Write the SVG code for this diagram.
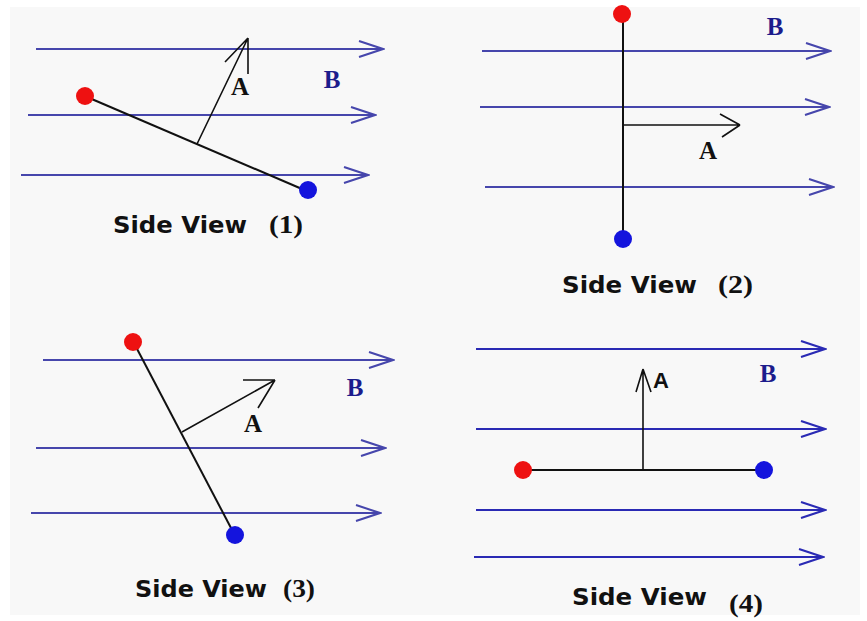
<svg xmlns="http://www.w3.org/2000/svg" width="867" height="621" viewBox="0 0 867 621">
<defs>
<style>
.field{stroke:#4646ac;stroke-width:2.2;fill:none;marker-end:url(#bArrow)}
.field4{stroke:#2a2ab4;stroke-width:2;fill:none;marker-end:url(#bArrow4)}
.rod{stroke:#111;stroke-width:2;fill:none}
.vec{stroke:#111;stroke-width:1.6;fill:none}
.red{fill:#ee1111}
.blue{fill:#1414dd}
.cap{font-family:"DejaVu Sans",Verdana,sans-serif;font-weight:bold;font-size:23px;fill:#111}
.num{font-family:"Liberation Serif","Times New Roman",serif;font-weight:bold;font-size:26px;fill:#111}
.lblA{font-family:"Liberation Serif","Times New Roman",serif;font-weight:bold;font-size:25px;fill:#111}
.lblA4{font-family:"Liberation Sans",Arial,sans-serif;font-weight:bold;font-size:22px;fill:#111}
.lblB{font-family:"Liberation Serif","Times New Roman",serif;font-weight:bold;font-size:25px;fill:#1c1c8c}
</style>
<marker id="bArrow" markerUnits="userSpaceOnUse" viewBox="-27 -11 29 22" refX="0" refY="0" markerWidth="29" markerHeight="22" orient="auto">
<path d="M-24,-8 L0,0 L-24,8" fill="none" stroke="#4646ac" stroke-width="2"/>
</marker>
<marker id="bArrow4" markerUnits="userSpaceOnUse" viewBox="-27 -11 29 22" refX="0" refY="0" markerWidth="29" markerHeight="22" orient="auto">
<path d="M-24,-8 L0,0 L-24,8" fill="none" stroke="#2a2ab4" stroke-width="2"/>
</marker>
</defs>
<rect x="0" y="0" width="867" height="621" fill="#ffffff"/>
<rect x="10" y="7" width="850" height="608" fill="#f8f8f8"/>

<g id="panel1">
<g id="p1-field">
<line class="field" x1="36" y1="49" x2="383" y2="49"/>
<line class="field" x1="28" y1="115" x2="375" y2="115"/>
<line class="field" x1="21" y1="175" x2="368" y2="175"/>
</g>
<line class="rod" x1="87" y1="97" x2="302" y2="189"/>
<circle class="red" cx="85" cy="96" r="9"/>
<circle class="blue" cx="308" cy="190" r="9"/>
<path class="vec" d="M197,144 L248,38 M248,38 L225,62 M248,38 L248,74"/>
<text class="lblA" x="240" y="95" text-anchor="middle">A</text>
<text class="lblB" x="332" y="88" text-anchor="middle">B</text>
<text class="cap" x="113" y="233" textLength="134" lengthAdjust="spacingAndGlyphs">Side View</text>
<text class="num" x="269" y="233" textLength="34" lengthAdjust="spacingAndGlyphs">(1)</text>
</g>

<g id="panel2">
<g id="p2-field">
<line class="field" x1="482" y1="51" x2="830" y2="51"/>
<line class="field" x1="480" y1="107" x2="829" y2="107"/>
<line class="field" x1="485" y1="187" x2="833" y2="187"/>
</g>
<line class="rod" x1="623" y1="14" x2="623" y2="239"/>
<circle class="red" cx="622" cy="14" r="9"/>
<circle class="blue" cx="623" cy="239" r="9"/>
<path class="vec" d="M623,125 L740,125 M740,125 L720,114 M740,125 L722,137"/>
<text class="lblA" x="708" y="159" text-anchor="middle">A</text>
<text class="lblB" x="775" y="35" text-anchor="middle">B</text>
<text class="cap" x="562" y="293" textLength="135" lengthAdjust="spacingAndGlyphs">Side View</text>
<text class="num" x="718" y="293" textLength="35" lengthAdjust="spacingAndGlyphs">(2)</text>
</g>

<g id="panel3">
<g id="p3-field">
<line class="field" x1="43" y1="360" x2="393" y2="360"/>
<line class="field" x1="36" y1="448" x2="385" y2="448"/>
<line class="field" x1="31" y1="513" x2="380" y2="513"/>
</g>
<line class="rod" x1="135" y1="345" x2="231" y2="528"/>
<circle class="red" cx="133" cy="342" r="9"/>
<circle class="blue" cx="235" cy="535" r="9"/>
<path class="vec" d="M182,432 L275,380 M275,380 L243,380 M275,380 L258,408"/>
<text class="lblA" x="253" y="432" text-anchor="middle">A</text>
<text class="lblB" x="355" y="396" text-anchor="middle">B</text>
<text class="cap" x="135" y="597" textLength="132" lengthAdjust="spacingAndGlyphs">Side View</text>
<text class="num" x="283" y="597" textLength="32" lengthAdjust="spacingAndGlyphs">(3)</text>
</g>

<g id="panel4">
<g id="p4-field">
<line class="field4" x1="476" y1="349" x2="825" y2="349"/>
<line class="field4" x1="476" y1="429" x2="825" y2="429"/>
<line class="field4" x1="476" y1="510" x2="825" y2="510"/>
<line class="field4" x1="474" y1="557" x2="823" y2="557"/>
</g>
<line class="rod" x1="523" y1="470" x2="764" y2="470"/>
<circle class="red" cx="523" cy="470" r="9"/>
<circle class="blue" cx="764" cy="470" r="9"/>
<path class="vec" d="M643,470 L643,369 M643,369 L636,392 M643,369 L651,392"/>
<text class="lblA4" x="653" y="388">A</text>
<text class="lblB" x="768" y="382" text-anchor="middle">B</text>
<text class="cap" x="572" y="605" textLength="135" lengthAdjust="spacingAndGlyphs">Side View</text>
<text class="num" x="729" y="612" textLength="34" lengthAdjust="spacingAndGlyphs">(4)</text>
</g>
</svg>
